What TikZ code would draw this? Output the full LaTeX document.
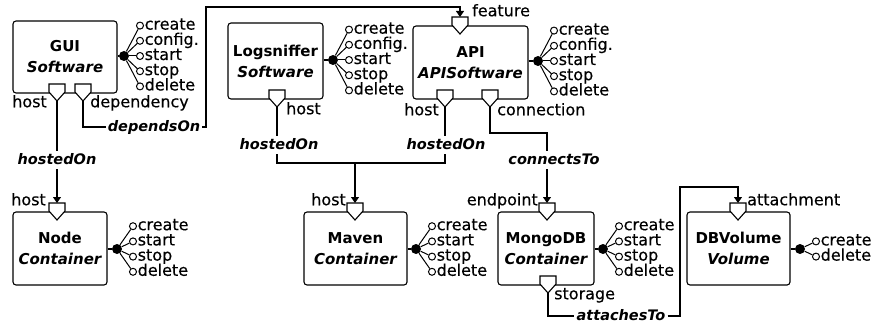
\documentclass[tikz,border=0pt]{standalone}
\usepackage{fontspec}
\setmainfont{DejaVu Sans}
\newfontfamily\lblfont{DejaVu Sans}[FakeBold=0.35]
\usetikzlibrary{arrows.meta}
\tikzset{
 box/.style={draw, line width=1.1pt, rounded corners=3pt, align=center, font=\fontsize{15}{21}\selectfont, inner sep=0pt},
 conn/.style={line width=1.1pt},
 arr/.style={conn, -{Triangle[length=6pt,width=8pt]}},
 lbl/.style={font=\lblfont\fontsize{16}{16}\selectfont, inner sep=1pt, text height=11pt, text depth=2.5pt},
 caplbl/.style={font=\lblfont\fontsize{16}{16}\selectfont, inner sep=0.5pt, text height=10pt, text depth=2pt},
 rel/.style={font=\fontsize{14.5}{14.5}\selectfont\bfseries\itshape, inner sep=2pt, text height=11pt, text depth=3pt},
 capdot/.style={circle, fill=black, inner sep=0pt, minimum size=10pt},
 capop/.style={circle, draw, line width=1pt, fill=white, inner sep=0pt, minimum size=7pt},
 capline/.style={line width=1pt},
 shieldline/.style={line width=1.1pt, fill=white, line join=miter}
}
% requirement shield: name, x, edge y
\newcommand\reqshield[3]{%
 \draw[shieldline] (#2-8,#3-9) -- (#2+8,#3-9) -- (#2+8,#3-1) -- (#2,#3+8) -- (#2-8,#3-1) -- cycle;
 \coordinate (#1t) at (#2,#3-9);
 \coordinate (#1b) at (#2,#3+8);}
% capability fan: name, box, x, y, count, list
\newcommand\capfan[6]{%
 \node[capdot] (#1) at (#3,#4) {};
 \draw[conn] (#2.east |- #1) -- (#1);
 \foreach \t [count=\i] in {#6} {
   \pgfmathsetmacro\yy{#4+(\i-(#5+1)/2)*15.2}
   \node[capop] (#1o\i) at (#3+16,\yy) {};
   \draw[capline] (#1) -- (#1o\i);
   \node[caplbl, anchor=west] (#1l\i) at (#1o\i.east) {\t};
 }}
\begin{document}
\begin{tikzpicture}[x=1pt,y=-1pt]
\useasboundingbox (0,0) rectangle (874,326);
% boxes
\node[box, minimum width=104pt, minimum height=72pt] (gui) at (65,57) {\bfseries GUI\\\bfseries\itshape Software};
\node[box, minimum width=95pt, minimum height=76pt] (ls) at (275.5,61) {\bfseries Logsniffer\\\bfseries\itshape Software};
\node[box, minimum width=115pt, minimum height=73pt] (api) at (470.5,62.5) {\bfseries API\\\bfseries\itshape APISoftware};
\node[box, minimum width=94pt, minimum height=73pt] (node) at (60,248.5) {\bfseries Node\\\bfseries\itshape Container};
\node[box, minimum width=103pt, minimum height=73pt] (maven) at (355.5,248.5) {\bfseries Maven\\\bfseries\itshape Container};
\node[box, minimum width=96pt, minimum height=73pt] (mongo) at (546,248.5) {\bfseries MongoDB\\\bfseries\itshape Container};
\node[box, minimum width=103pt, minimum height=73pt] (dbv) at (738.5,248.5) {\bfseries DBVolume\\\bfseries\itshape Volume};
% capabilities
\capfan{guic}{gui}{124}{56}{5}{create,config.,start,stop,delete}
\capfan{lsc}{ls}{333}{60}{5}{create,config.,start,stop,delete}
\capfan{apic}{api}{538}{61}{5}{create,config.,start,stop,delete}
\capfan{nodec}{node}{117}{249}{4}{create,start,stop,delete}
\capfan{mavenc}{maven}{416}{249}{4}{create,start,stop,delete}
\capfan{mongoc}{mongo}{603}{249}{4}{create,start,stop,delete}
\capfan{dbvc}{dbv}{800}{249}{2}{create,delete}
% requirement / target shields
\reqshield{guiH}{57}{93}
\reqshield{guiD}{83}{93}
\reqshield{lsH}{277}{99}
\reqshield{apiH}{445}{99}
\reqshield{apiC}{490}{99}
\reqshield{apiF}{460}{26}
\reqshield{nodeH}{57}{212}
\reqshield{mavenH}{355}{212}
\reqshield{mongoE}{547}{212}
\reqshield{mongoS}{548}{285}
\reqshield{dbvA}{738}{212}
% shield labels
\node[lbl, anchor=east] (l1) at (48,103) {host};
\node[lbl, anchor=west] (l2) at (89,103) {dependency};
\node[lbl, anchor=west] (l3) at (285,110) {host};
\node[lbl, anchor=east] (l4) at (440,111) {host};
\node[lbl, anchor=west] (l5) at (496,111) {connection};
\node[lbl, anchor=west] (l6) at (471,12) {feature};
\node[lbl, anchor=east] (l7) at (47,201) {host};
\node[lbl, anchor=east] (l8) at (347,201) {host};
\node[lbl, anchor=east] (l9) at (539,201) {endpoint};
\node[lbl, anchor=west] (l10) at (553,295) {storage};
\node[lbl, anchor=west] (l11) at (746,201) {attachment};
% relationship labels
\node[rel] (ho1) at (57,160) {hostedOn};
\node[rel] (dep) at (154,127) {dependsOn};
\node[rel] (ho2) at (279,145) {hostedOn};
\node[rel] (ho3) at (446,145) {hostedOn};
\node[rel] (ct) at (554,160) {connectsTo};
\node[rel] (att) at (621,316) {attachesTo};
% helper coordinates
\coordinate (c1) at (206,7);
\coordinate (jm) at (355,163);
\coordinate (c2) at (547,133);
\coordinate (c3) at (680,187);
% connectors
\draw[conn] (guiHb) -- (guiHb |- ho1.north);
\draw[arr] (ho1.south -| nodeHt) -- (nodeHt);
\draw[conn] (guiDb) |- (dep.west);
\draw[arr] (dep.east) -| (c1) -| (apiFt);
\draw[conn] (lsHb) -- (lsHb |- ho2.north);
\draw[conn] (apiHb) -- (apiHb |- ho3.north);
\draw[conn] (lsHb |- ho2.south) |- (jm) -| (apiHb |- ho3.south);
\draw[arr] (jm) -- (mavenHt);
\draw[conn] (apiCb) |- (c2) -- (c2 |- ct.north);
\draw[arr] (c2 |- ct.south) -- (mongoEt);
\draw[conn] (mongoSb) |- (att.west);
\draw[arr] (att.east) -| (c3) -| (dbvAt);
\end{tikzpicture}
\end{document}
